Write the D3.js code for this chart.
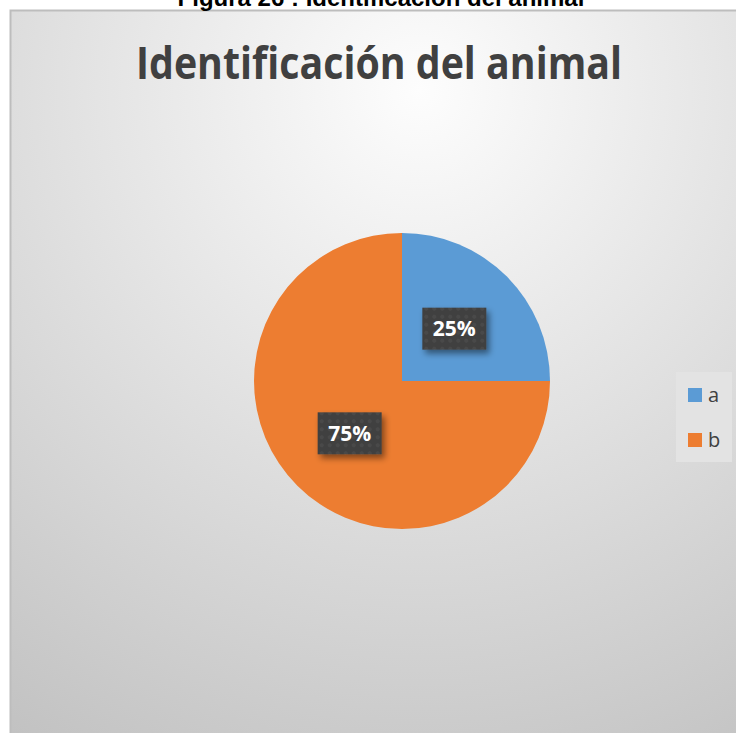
<!DOCTYPE html>
<html>
<head>
<meta charset="utf-8">
<script src="https://cdn.jsdelivr.net/npm/d3@7"></script>
<style>
  body { margin: 0; background: #fff; overflow: hidden; }
</style>
</head>
<body>
<div class="canvas"></div>
<script>
// Data
const categories = ['a', 'b'];
const values = [25, 75];
const colors = ['#5b9bd5', '#ed7d31'];

const caption = 'Figura 26 : Identificación del animal';
const title = 'Identificación del animal';

const width = 736;
const height = 733;
const center = { x: 402, y: 381 };
const radius = 148;

//Canvas
const svg = d3
  .select('.canvas')
  .append('svg')
  .attr('width', width)
  .attr('height', height);

const defs = svg.append('defs');

//Chart background gradient
const bg = defs
  .append('radialGradient')
  .attr('id', 'bg')
  .attr('gradientUnits', 'userSpaceOnUse')
  .attr('cx', 420)
  .attr('cy', 90)
  .attr('r', 760);
bg.append('stop').attr('offset', '0%').attr('stop-color', '#fdfdfd');
bg.append('stop').attr('offset', '100%').attr('stop-color', '#c2c2c2');

//Label shadow
const shadow = defs.append('filter').attr('id', 'shadow').attr('x', '-30%').attr('y', '-30%').attr('width', '160%').attr('height', '170%');
shadow
  .append('feDropShadow')
  .attr('dx', 3)
  .attr('dy', 4)
  .attr('stdDeviation', 3)
  .attr('flood-color', '#000')
  .attr('flood-opacity', 0.45);

//Dotted pattern for label boxes
const pattern = defs
  .append('pattern')
  .attr('id', 'dots')
  .attr('patternUnits', 'userSpaceOnUse')
  .attr('width', 8)
  .attr('height', 8);
pattern.append('rect').attr('width', 8).attr('height', 8).attr('fill', '#3f3f3f');
pattern.append('circle').attr('cx', 4).attr('cy', 4).attr('r', 2).attr('fill', '#4a4a4a');

//Chart area
svg
  .append('rect')
  .attr('x', 10.5)
  .attr('y', 10.5)
  .attr('width', width)
  .attr('height', height)
  .attr('fill', 'url(#bg)')
  .attr('stroke', '#bdbdbd')
  .attr('stroke-width', 2);

//Caption (cut by the top of the page, as in the source)
svg
  .append('text')
  .attr('x', 381)
  .attr('y', 6)
  .attr('text-anchor', 'middle')
  .attr('font-family', 'Liberation Sans, Arial, sans-serif')
  .attr('font-weight', 'bold')
  .attr('font-size', 24)
  .attr('fill', '#000')
  .text(caption);

//Title
svg
  .append('text')
  .attr('x', 379)
  .attr('y', 79)
  .attr('text-anchor', 'middle')
  .attr('font-family', 'Open Sans, sans-serif')
  .attr('font-weight', 'bold')
  .attr('font-size', 44)
  .attr('textLength', 486)
  .attr('lengthAdjust', 'spacingAndGlyphs')
  .attr('fill', '#404040')
  .text(title);

// Graph/Pie
const graph = svg
  .append('g')
  .attr('transform', `translate(${center.x},${center.y})`);

const data = categories.map((c, i) => ({ name: c, value: values[i] }));

const pie = d3
  .pie()
  .sort(null)
  .value((d) => d.value);

const arcPath = d3.arc().outerRadius(radius).innerRadius(0);
const labelArc = d3.arc().outerRadius(radius).innerRadius(0);

const color = d3.scaleOrdinal().domain(categories).range(colors);
const total = d3.sum(values);

const slices = pie(data);

graph
  .selectAll('path')
  .data(slices)
  .enter()
  .append('path')
  .attr('d', arcPath)
  .attr('fill', (d) => color(d.data.name));

//Data labels (centroid = half radius)
const labels = graph
  .selectAll('g.label')
  .data(slices)
  .enter()
  .append('g')
  .attr('class', 'label')
  .attr('transform', (d) => {
    const [x, y] = labelArc.centroid(d);
    return `translate(${x},${y})`;
  });

labels
  .append('rect')
  .attr('x', -32)
  .attr('y', -21)
  .attr('width', 64)
  .attr('height', 42)
  .attr('fill', 'url(#dots)')
  .attr('filter', 'url(#shadow)');

labels
  .append('text')
  .attr('text-anchor', 'middle')
  .attr('dy', '0.36em')
  .attr('font-family', 'Open Sans, sans-serif')
  .attr('font-weight', 'bold')
  .attr('font-size', 21)
  .attr('fill', '#fff')
  .text((d) => `${Math.round((d.data.value / total) * 100)}%`);

//Legend
const legendGroup = svg.append('g').attr('transform', 'translate(676,372)');

legendGroup
  .append('rect')
  .attr('width', 56)
  .attr('height', 90)
  .attr('fill', '#e3e3e3');

const legendY = d3.scalePoint().domain(categories).range([23, 68]);

const items = legendGroup
  .selectAll('g.item')
  .data(categories)
  .enter()
  .append('g')
  .attr('class', 'item')
  .attr('transform', (d) => `translate(12,${legendY(d)})`);

items
  .append('rect')
  .attr('y', -7)
  .attr('width', 14)
  .attr('height', 14)
  .attr('fill', (d) => color(d));

items
  .append('text')
  .attr('x', 20)
  .attr('dy', '0.35em')
  .attr('font-family', 'Open Sans, sans-serif')
  .attr('font-size', 20)
  .attr('fill', '#404040')
  .text((d) => d);
</script>
</body>
</html>
